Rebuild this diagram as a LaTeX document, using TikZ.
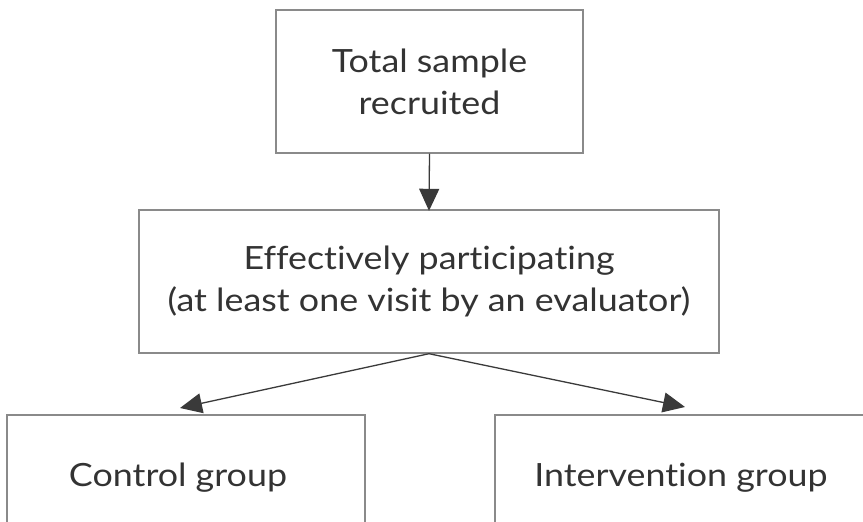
\documentclass[tikz,border=0pt]{standalone}
\usepackage{fontspec}
\setmainfont[FakeStretch=1.12, Ligatures=NoCommon]{Lato}
\usetikzlibrary{arrows.meta}
\definecolor{boxgray}{HTML}{8A8A8A}
\definecolor{linegray}{HTML}{3A3A3A}
\definecolor{textgray}{HTML}{333333}
\begin{document}
\begin{tikzpicture}[x=1pt,y=-1pt,
  box/.style={draw=boxgray, line width=1.4pt, align=center, inner sep=0pt,
    font=\fontsize{32}{42}\selectfont, text=textgray},
  link/.style={draw=linegray, line width=1.3pt,
    -{Triangle[length=22pt,width=20pt]}}]
  \useasboundingbox (0,0) rectangle (863,522);
  \clip (0,0) rectangle (863,522);

  % flow boxes
  \node[box, minimum width=307pt, minimum height=143pt] (total) at (429.5,81.5)
    {Total sample\\recruited};
  \node[box, minimum width=580pt, minimum height=143pt] (part) at (429,281.5)
    {Effectively participating\\(at least one visit by an evaluator)};
  \node[box, minimum width=358pt, minimum height=126pt] (ctrl) at (186,478)
    {Control group\hspace*{16pt}};
  \node[box, minimum width=372pt, minimum height=126pt] (intv) at (681,478)
    {Intervention group};

  % arrow ends just above the lower boxes
  \coordinate (ctrltip) at (180,408);
  \coordinate (intvtip) at (685,407);

  % connectors
  \draw[link] (total.south) -- ([yshift=-1.5pt]part.north);
  \draw[link] (part.south) -- (ctrltip);
  \draw[link] (part.south) -- (intvtip);
\end{tikzpicture}
\end{document}
